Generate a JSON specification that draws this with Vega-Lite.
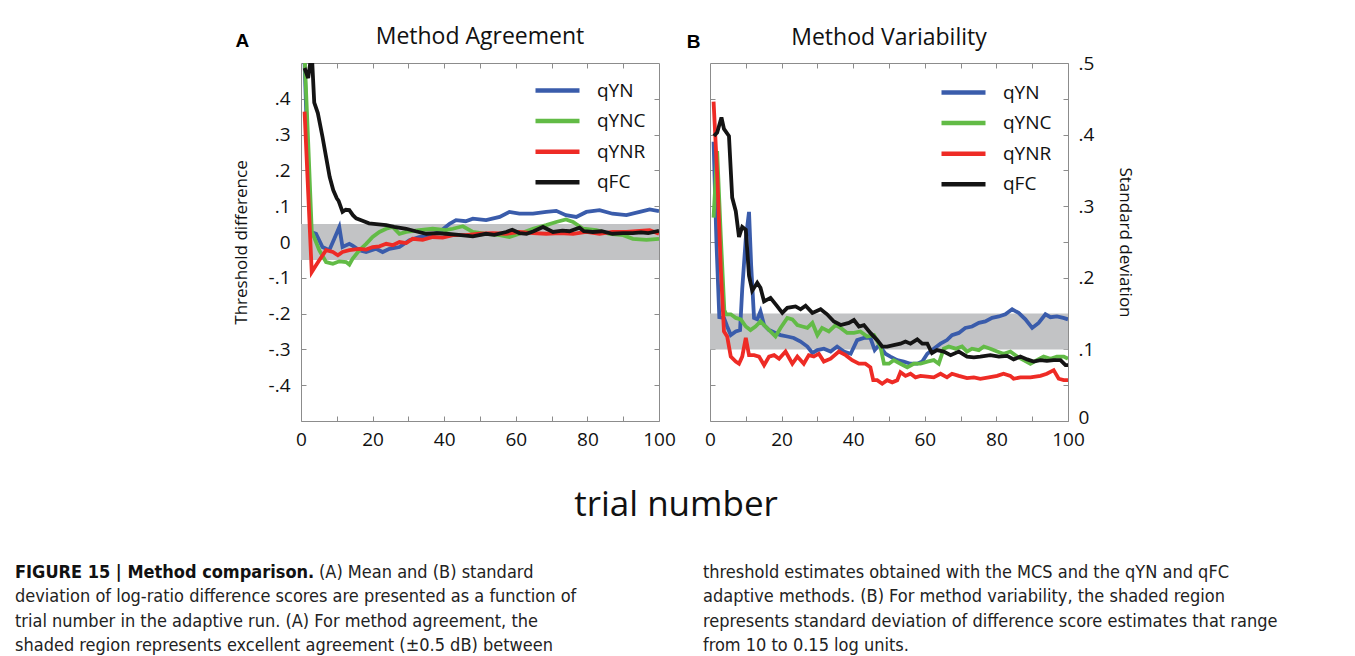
{
"$schema": "https://vega.github.io/schema/vega-lite/v6.json",
"padding": {"left": 15, "top": 25, "right": 0, "bottom": 0},
"background": "white",
"config": {
  "font": "Open Sans",
  "view": {"stroke": "#8c8c8c", "strokeWidth": 1},
  "axis": {"domain": false, "grid": false, "tickColor": "#8c8c8c", "tickSize": -5, "tickWidth": 1, "labelFont": "Open Sans", "labelFontSize": 19, "labelColor": "#111111", "labelFlush": false, "labelOverlap": false, "titleFont": "Open Sans", "titleFontSize": 17, "titleFontWeight": "normal", "titleColor": "#111111"},
  "title": {"font": "Open Sans", "fontSize": 23, "fontWeight": "normal", "color": "#111111", "frame": "group", "anchor": "middle"},
  "legend": {"title": null, "symbolType": "M-2,0H2", "symbolSize": 484, "symbolStrokeWidth": 4.5, "labelFont": "Open Sans", "labelFontSize": 19, "labelColor": "#111111", "labelOffset": 26, "rowPadding": 6.6, "padding": 0}
},
"datasets": {
  "band": [{"p": "A", "x0": 0, "x1": 100, "lo": -0.05, "hi": 0.05}, {"p": "B", "x0": 0, "x1": 100, "lo": 0.1, "hi": 0.15}],
  "caption": [
    {"col": 0, "line": 0, "part": "head", "text": "FIGURE 15 | Method comparison."},
    {"col": 0, "line": 0, "part": "tail", "text": "(A) Mean and (B) standard"},
    {"col": 0, "line": 1, "part": "body", "text": "deviation of log-ratio difference scores are presented as a function of"},
    {"col": 0, "line": 2, "part": "body", "text": "trial number in the adaptive run. (A) For method agreement, the"},
    {"col": 0, "line": 3, "part": "body", "text": "shaded region represents excellent agreement (±0.5 dB) between"},
    {"col": 1, "line": 0, "part": "body", "text": "threshold estimates obtained with the MCS and the qYN and qFC"},
    {"col": 1, "line": 1, "part": "body", "text": "adaptive methods. (B) For method variability, the shaded region"},
    {"col": 1, "line": 2, "part": "body", "text": "represents standard deviation of difference score estimates that range"},
    {"col": 1, "line": 3, "part": "body", "text": "from 10 to 0.15 log units."}
  ],
  "series": [
{"p":"A","s":"qYN","t":1,"v":0.5},{"p":"A","s":"qYN","t":2,"v":0.2},{"p":"A","s":"qYN","t":2.8,"v":0.028},{"p":"A","s":"qYN","t":4.2,"v":0.023},{"p":"A","s":"qYN","t":6,"v":-0.014},{"p":"A","s":"qYN","t":7.9,"v":-0.023},{"p":"A","s":"qYN","t":9.3,"v":0.009},{"p":"A","s":"qYN","t":10.7,"v":0.042},{"p":"A","s":"qYN","t":11.6,"v":-0.014},{"p":"A","s":"qYN","t":13.5,"v":-0.005},{"p":"A","s":"qYN","t":14.4,"v":-0.01},{"p":"A","s":"qYN","t":16.3,"v":-0.023},{"p":"A","s":"qYN","t":18.2,"v":-0.028},{"p":"A","s":"qYN","t":21,"v":-0.019},{"p":"A","s":"qYN","t":22.8,"v":-0.028},{"p":"A","s":"qYN","t":24.7,"v":-0.019},{"p":"A","s":"qYN","t":27.5,"v":-0.014},{"p":"A","s":"qYN","t":30.3,"v":0.005},{"p":"A","s":"qYN","t":33,"v":0.014},{"p":"A","s":"qYN","t":35.9,"v":0.019},{"p":"A","s":"qYN","t":38.7,"v":0.028},{"p":"A","s":"qYN","t":41.5,"v":0.051},{"p":"A","s":"qYN","t":43.3,"v":0.061},{"p":"A","s":"qYN","t":46,"v":0.058},{"p":"A","s":"qYN","t":48,"v":0.065},{"p":"A","s":"qYN","t":51.7,"v":0.061},{"p":"A","s":"qYN","t":55.5,"v":0.07},{"p":"A","s":"qYN","t":58.2,"v":0.084},{"p":"A","s":"qYN","t":61,"v":0.079},{"p":"A","s":"qYN","t":64.8,"v":0.079},{"p":"A","s":"qYN","t":68.5,"v":0.084},{"p":"A","s":"qYN","t":71.3,"v":0.087},{"p":"A","s":"qYN","t":74,"v":0.075},{"p":"A","s":"qYN","t":76.9,"v":0.07},{"p":"A","s":"qYN","t":79.7,"v":0.084},{"p":"A","s":"qYN","t":83.4,"v":0.089},{"p":"A","s":"qYN","t":87,"v":0.079},{"p":"A","s":"qYN","t":90.9,"v":0.075},{"p":"A","s":"qYN","t":94.6,"v":0.084},{"p":"A","s":"qYN","t":97.4,"v":0.091},{"p":"A","s":"qYN","t":100,"v":0.086},
{"p":"A","s":"qYNC","t":1,"v":0.52},{"p":"A","s":"qYNC","t":2,"v":0.28},{"p":"A","s":"qYNC","t":3,"v":0.03},{"p":"A","s":"qYNC","t":5.1,"v":-0.023},{"p":"A","s":"qYNC","t":7,"v":-0.056},{"p":"A","s":"qYNC","t":8.9,"v":-0.061},{"p":"A","s":"qYNC","t":10.7,"v":-0.054},{"p":"A","s":"qYNC","t":12.6,"v":-0.056},{"p":"A","s":"qYNC","t":13.5,"v":-0.063},{"p":"A","s":"qYNC","t":14.4,"v":-0.047},{"p":"A","s":"qYNC","t":16.3,"v":-0.023},{"p":"A","s":"qYNC","t":18.2,"v":-0.005},{"p":"A","s":"qYNC","t":20,"v":0.014},{"p":"A","s":"qYNC","t":21.9,"v":0.028},{"p":"A","s":"qYNC","t":23.8,"v":0.037},{"p":"A","s":"qYNC","t":25.6,"v":0.042},{"p":"A","s":"qYNC","t":27.5,"v":0.023},{"p":"A","s":"qYNC","t":29.4,"v":0.028},{"p":"A","s":"qYNC","t":33,"v":0.033},{"p":"A","s":"qYNC","t":36.8,"v":0.037},{"p":"A","s":"qYNC","t":40.5,"v":0.033},{"p":"A","s":"qYNC","t":42.4,"v":0.037},{"p":"A","s":"qYNC","t":45.2,"v":0.044},{"p":"A","s":"qYNC","t":48,"v":0.028},{"p":"A","s":"qYNC","t":51.7,"v":0.023},{"p":"A","s":"qYNC","t":55.5,"v":0.019},{"p":"A","s":"qYNC","t":58.2,"v":0.014},{"p":"A","s":"qYNC","t":61,"v":0.023},{"p":"A","s":"qYNC","t":64.8,"v":0.037},{"p":"A","s":"qYNC","t":68.5,"v":0.047},{"p":"A","s":"qYNC","t":71.3,"v":0.056},{"p":"A","s":"qYNC","t":74,"v":0.063},{"p":"A","s":"qYNC","t":76,"v":0.056},{"p":"A","s":"qYNC","t":78.8,"v":0.037},{"p":"A","s":"qYNC","t":82.5,"v":0.033},{"p":"A","s":"qYNC","t":86.2,"v":0.023},{"p":"A","s":"qYNC","t":90,"v":0.019},{"p":"A","s":"qYNC","t":92.7,"v":0.009},{"p":"A","s":"qYNC","t":96.5,"v":0.006},{"p":"A","s":"qYNC","t":100,"v":0.009},
{"p":"A","s":"qYNR","t":1,"v":0.364},{"p":"A","s":"qYNR","t":3,"v":-0.084},{"p":"A","s":"qYNR","t":4.2,"v":-0.065},{"p":"A","s":"qYNR","t":5.1,"v":-0.051},{"p":"A","s":"qYNR","t":7,"v":-0.023},{"p":"A","s":"qYNR","t":8.9,"v":-0.028},{"p":"A","s":"qYNR","t":10.3,"v":-0.037},{"p":"A","s":"qYNR","t":11.6,"v":-0.028},{"p":"A","s":"qYNR","t":13.5,"v":-0.023},{"p":"A","s":"qYNR","t":16.3,"v":-0.019},{"p":"A","s":"qYNR","t":18.2,"v":-0.021},{"p":"A","s":"qYNR","t":20,"v":-0.014},{"p":"A","s":"qYNR","t":21.9,"v":-0.012},{"p":"A","s":"qYNR","t":23.8,"v":-0.005},{"p":"A","s":"qYNR","t":25.6,"v":-0.009},{"p":"A","s":"qYNR","t":27.5,"v":0},{"p":"A","s":"qYNR","t":29.4,"v":-0.003},{"p":"A","s":"qYNR","t":31.2,"v":0.009},{"p":"A","s":"qYNR","t":34,"v":0.006},{"p":"A","s":"qYNR","t":36.8,"v":0.014},{"p":"A","s":"qYNR","t":39.6,"v":0.012},{"p":"A","s":"qYNR","t":42.4,"v":0.019},{"p":"A","s":"qYNR","t":46,"v":0.019},{"p":"A","s":"qYNR","t":49.9,"v":0.023},{"p":"A","s":"qYNR","t":53.6,"v":0.025},{"p":"A","s":"qYNR","t":57.3,"v":0.023},{"p":"A","s":"qYNR","t":61,"v":0.028},{"p":"A","s":"qYNR","t":64.8,"v":0.025},{"p":"A","s":"qYNR","t":68.5,"v":0.023},{"p":"A","s":"qYNR","t":72.2,"v":0.025},{"p":"A","s":"qYNR","t":76,"v":0.023},{"p":"A","s":"qYNR","t":79.7,"v":0.028},{"p":"A","s":"qYNR","t":83.4,"v":0.023},{"p":"A","s":"qYNR","t":87,"v":0.028},{"p":"A","s":"qYNR","t":90.9,"v":0.028},{"p":"A","s":"qYNR","t":94.6,"v":0.031},{"p":"A","s":"qYNR","t":97.4,"v":0.033},{"p":"A","s":"qYNR","t":100,"v":0.023},
{"p":"A","s":"qFC","t":1,"v":0.486},{"p":"A","s":"qFC","t":2,"v":0.458},{"p":"A","s":"qFC","t":3,"v":0.53},{"p":"A","s":"qFC","t":3.7,"v":0.389},{"p":"A","s":"qFC","t":4.7,"v":0.36},{"p":"A","s":"qFC","t":6,"v":0.294},{"p":"A","s":"qFC","t":7,"v":0.238},{"p":"A","s":"qFC","t":8,"v":0.182},{"p":"A","s":"qFC","t":9,"v":0.145},{"p":"A","s":"qFC","t":10,"v":0.122},{"p":"A","s":"qFC","t":10.5,"v":0.115},{"p":"A","s":"qFC","t":11.6,"v":0.084},{"p":"A","s":"qFC","t":12.5,"v":0.09},{"p":"A","s":"qFC","t":13.5,"v":0.089},{"p":"A","s":"qFC","t":14.5,"v":0.075},{"p":"A","s":"qFC","t":15.4,"v":0.066},{"p":"A","s":"qFC","t":17,"v":0.06},{"p":"A","s":"qFC","t":19,"v":0.052},{"p":"A","s":"qFC","t":21,"v":0.05},{"p":"A","s":"qFC","t":23.8,"v":0.047},{"p":"A","s":"qFC","t":26,"v":0.042},{"p":"A","s":"qFC","t":29.4,"v":0.037},{"p":"A","s":"qFC","t":32,"v":0.03},{"p":"A","s":"qFC","t":35,"v":0.023},{"p":"A","s":"qFC","t":38,"v":0.025},{"p":"A","s":"qFC","t":40.5,"v":0.023},{"p":"A","s":"qFC","t":44,"v":0.02},{"p":"A","s":"qFC","t":48,"v":0.016},{"p":"A","s":"qFC","t":51.7,"v":0.023},{"p":"A","s":"qFC","t":54,"v":0.02},{"p":"A","s":"qFC","t":57.3,"v":0.028},{"p":"A","s":"qFC","t":59,"v":0.034},{"p":"A","s":"qFC","t":61,"v":0.025},{"p":"A","s":"qFC","t":63,"v":0.023},{"p":"A","s":"qFC","t":65,"v":0.03},{"p":"A","s":"qFC","t":67.6,"v":0.042},{"p":"A","s":"qFC","t":70.4,"v":0.028},{"p":"A","s":"qFC","t":73,"v":0.032},{"p":"A","s":"qFC","t":75,"v":0.03},{"p":"A","s":"qFC","t":77.8,"v":0.04},{"p":"A","s":"qFC","t":79,"v":0.03},{"p":"A","s":"qFC","t":81.5,"v":0.028},{"p":"A","s":"qFC","t":84,"v":0.03},{"p":"A","s":"qFC","t":87,"v":0.023},{"p":"A","s":"qFC","t":90,"v":0.025},{"p":"A","s":"qFC","t":92.7,"v":0.025},{"p":"A","s":"qFC","t":95,"v":0.027},{"p":"A","s":"qFC","t":97,"v":0.025},{"p":"A","s":"qFC","t":100,"v":0.031},
{"p":"B","s":"qYN","t":1,"v":0.39},{"p":"B","s":"qYN","t":1.8,"v":0.25},{"p":"B","s":"qYN","t":2.6,"v":0.145},{"p":"B","s":"qYN","t":3.9,"v":0.144},{"p":"B","s":"qYN","t":4.8,"v":0.132},{"p":"B","s":"qYN","t":5.8,"v":0.12},{"p":"B","s":"qYN","t":7.2,"v":0.125},{"p":"B","s":"qYN","t":8.4,"v":0.127},{"p":"B","s":"qYN","t":9,"v":0.184},{"p":"B","s":"qYN","t":10,"v":0.255},{"p":"B","s":"qYN","t":10.9,"v":0.292},{"p":"B","s":"qYN","t":11.5,"v":0.217},{"p":"B","s":"qYN","t":12.3,"v":0.144},{"p":"B","s":"qYN","t":13.2,"v":0.142},{"p":"B","s":"qYN","t":14.1,"v":0.153},{"p":"B","s":"qYN","t":15.1,"v":0.134},{"p":"B","s":"qYN","t":16.5,"v":0.127},{"p":"B","s":"qYN","t":18.3,"v":0.123},{"p":"B","s":"qYN","t":19.7,"v":0.12},{"p":"B","s":"qYN","t":21.6,"v":0.118},{"p":"B","s":"qYN","t":23.4,"v":0.116},{"p":"B","s":"qYN","t":25.3,"v":0.111},{"p":"B","s":"qYN","t":27.2,"v":0.104},{"p":"B","s":"qYN","t":28.6,"v":0.095},{"p":"B","s":"qYN","t":30,"v":0.099},{"p":"B","s":"qYN","t":31.8,"v":0.101},{"p":"B","s":"qYN","t":33.7,"v":0.097},{"p":"B","s":"qYN","t":35.5,"v":0.104},{"p":"B","s":"qYN","t":37.4,"v":0.097},{"p":"B","s":"qYN","t":39.3,"v":0.094},{"p":"B","s":"qYN","t":41.1,"v":0.113},{"p":"B","s":"qYN","t":43,"v":0.116},{"p":"B","s":"qYN","t":44.8,"v":0.116},{"p":"B","s":"qYN","t":46,"v":0.099},{"p":"B","s":"qYN","t":47.2,"v":0.106},{"p":"B","s":"qYN","t":49,"v":0.094},{"p":"B","s":"qYN","t":50.4,"v":0.09},{"p":"B","s":"qYN","t":52.3,"v":0.085},{"p":"B","s":"qYN","t":54.1,"v":0.083},{"p":"B","s":"qYN","t":56,"v":0.08},{"p":"B","s":"qYN","t":57.9,"v":0.08},{"p":"B","s":"qYN","t":59.3,"v":0.083},{"p":"B","s":"qYN","t":60.7,"v":0.094},{"p":"B","s":"qYN","t":62.5,"v":0.101},{"p":"B","s":"qYN","t":64.4,"v":0.108},{"p":"B","s":"qYN","t":66.2,"v":0.113},{"p":"B","s":"qYN","t":67.6,"v":0.12},{"p":"B","s":"qYN","t":69.5,"v":0.123},{"p":"B","s":"qYN","t":71.3,"v":0.13},{"p":"B","s":"qYN","t":73.2,"v":0.132},{"p":"B","s":"qYN","t":75.1,"v":0.137},{"p":"B","s":"qYN","t":76.9,"v":0.139},{"p":"B","s":"qYN","t":78.8,"v":0.144},{"p":"B","s":"qYN","t":80.7,"v":0.146},{"p":"B","s":"qYN","t":82.5,"v":0.149},{"p":"B","s":"qYN","t":84.4,"v":0.156},{"p":"B","s":"qYN","t":86.2,"v":0.151},{"p":"B","s":"qYN","t":88.1,"v":0.142},{"p":"B","s":"qYN","t":90,"v":0.13},{"p":"B","s":"qYN","t":91.8,"v":0.137},{"p":"B","s":"qYN","t":93.7,"v":0.149},{"p":"B","s":"qYN","t":95.1,"v":0.145},{"p":"B","s":"qYN","t":96.9,"v":0.146},{"p":"B","s":"qYN","t":98.7,"v":0.144},{"p":"B","s":"qYN","t":100,"v":0.142},
{"p":"B","s":"qYNC","t":1,"v":0.284},{"p":"B","s":"qYNC","t":2,"v":0.377},{"p":"B","s":"qYNC","t":3,"v":0.26},{"p":"B","s":"qYNC","t":4,"v":0.155},{"p":"B","s":"qYNC","t":4.5,"v":0.149},{"p":"B","s":"qYNC","t":5.8,"v":0.149},{"p":"B","s":"qYNC","t":7.2,"v":0.144},{"p":"B","s":"qYNC","t":8.6,"v":0.142},{"p":"B","s":"qYNC","t":10,"v":0.132},{"p":"B","s":"qYNC","t":11.3,"v":0.127},{"p":"B","s":"qYNC","t":12.7,"v":0.132},{"p":"B","s":"qYNC","t":14.1,"v":0.139},{"p":"B","s":"qYNC","t":15.5,"v":0.132},{"p":"B","s":"qYNC","t":16.9,"v":0.125},{"p":"B","s":"qYNC","t":18.3,"v":0.118},{"p":"B","s":"qYNC","t":19.7,"v":0.13},{"p":"B","s":"qYNC","t":21.6,"v":0.144},{"p":"B","s":"qYNC","t":23,"v":0.142},{"p":"B","s":"qYNC","t":24.4,"v":0.134},{"p":"B","s":"qYNC","t":25.8,"v":0.132},{"p":"B","s":"qYNC","t":27.2,"v":0.13},{"p":"B","s":"qYNC","t":28.6,"v":0.137},{"p":"B","s":"qYNC","t":30,"v":0.12},{"p":"B","s":"qYNC","t":31.3,"v":0.13},{"p":"B","s":"qYNC","t":33.2,"v":0.125},{"p":"B","s":"qYNC","t":35.1,"v":0.134},{"p":"B","s":"qYNC","t":36.5,"v":0.13},{"p":"B","s":"qYNC","t":38.3,"v":0.123},{"p":"B","s":"qYNC","t":40.2,"v":0.123},{"p":"B","s":"qYNC","t":42,"v":0.125},{"p":"B","s":"qYNC","t":43.9,"v":0.118},{"p":"B","s":"qYNC","t":45.8,"v":0.12},{"p":"B","s":"qYNC","t":47.6,"v":0.104},{"p":"B","s":"qYNC","t":48.6,"v":0.08},{"p":"B","s":"qYNC","t":50,"v":0.08},{"p":"B","s":"qYNC","t":51.3,"v":0.085},{"p":"B","s":"qYNC","t":53.2,"v":0.08},{"p":"B","s":"qYNC","t":55.1,"v":0.075},{"p":"B","s":"qYNC","t":56.9,"v":0.08},{"p":"B","s":"qYNC","t":58.8,"v":0.08},{"p":"B","s":"qYNC","t":60.7,"v":0.083},{"p":"B","s":"qYNC","t":62.5,"v":0.085},{"p":"B","s":"qYNC","t":63.9,"v":0.08},{"p":"B","s":"qYNC","t":65.3,"v":0.101},{"p":"B","s":"qYNC","t":66.7,"v":0.104},{"p":"B","s":"qYNC","t":68.6,"v":0.101},{"p":"B","s":"qYNC","t":70.4,"v":0.104},{"p":"B","s":"qYNC","t":71.8,"v":0.097},{"p":"B","s":"qYNC","t":73.2,"v":0.101},{"p":"B","s":"qYNC","t":75.1,"v":0.099},{"p":"B","s":"qYNC","t":76.5,"v":0.104},{"p":"B","s":"qYNC","t":78.3,"v":0.101},{"p":"B","s":"qYNC","t":80.2,"v":0.097},{"p":"B","s":"qYNC","t":82,"v":0.094},{"p":"B","s":"qYNC","t":83.9,"v":0.097},{"p":"B","s":"qYNC","t":85.8,"v":0.09},{"p":"B","s":"qYNC","t":87.6,"v":0.085},{"p":"B","s":"qYNC","t":89.5,"v":0.08},{"p":"B","s":"qYNC","t":91.3,"v":0.085},{"p":"B","s":"qYNC","t":93.2,"v":0.09},{"p":"B","s":"qYNC","t":95.1,"v":0.087},{"p":"B","s":"qYNC","t":96.9,"v":0.09},{"p":"B","s":"qYNC","t":98.8,"v":0.09},{"p":"B","s":"qYNC","t":100,"v":0.087},
{"p":"B","s":"qYNR","t":1,"v":0.446},{"p":"B","s":"qYNR","t":2.1,"v":0.335},{"p":"B","s":"qYNR","t":3,"v":0.214},{"p":"B","s":"qYNR","t":3.9,"v":0.125},{"p":"B","s":"qYNR","t":4.8,"v":0.118},{"p":"B","s":"qYNR","t":5.8,"v":0.09},{"p":"B","s":"qYNR","t":7.2,"v":0.083},{"p":"B","s":"qYNR","t":8.1,"v":0.08},{"p":"B","s":"qYNR","t":9,"v":0.09},{"p":"B","s":"qYNR","t":10,"v":0.116},{"p":"B","s":"qYNR","t":10.9,"v":0.092},{"p":"B","s":"qYNR","t":12.3,"v":0.092},{"p":"B","s":"qYNR","t":13.7,"v":0.09},{"p":"B","s":"qYNR","t":15.1,"v":0.078},{"p":"B","s":"qYNR","t":16.5,"v":0.09},{"p":"B","s":"qYNR","t":17.9,"v":0.092},{"p":"B","s":"qYNR","t":19.3,"v":0.087},{"p":"B","s":"qYNR","t":21.1,"v":0.097},{"p":"B","s":"qYNR","t":23,"v":0.08},{"p":"B","s":"qYNR","t":24.4,"v":0.09},{"p":"B","s":"qYNR","t":26.2,"v":0.08},{"p":"B","s":"qYNR","t":27.6,"v":0.092},{"p":"B","s":"qYNR","t":29,"v":0.09},{"p":"B","s":"qYNR","t":30.4,"v":0.094},{"p":"B","s":"qYNR","t":31.8,"v":0.083},{"p":"B","s":"qYNR","t":33.7,"v":0.087},{"p":"B","s":"qYNR","t":36,"v":0.097},{"p":"B","s":"qYNR","t":37.9,"v":0.092},{"p":"B","s":"qYNR","t":39.7,"v":0.085},{"p":"B","s":"qYNR","t":41.6,"v":0.08},{"p":"B","s":"qYNR","t":43.4,"v":0.08},{"p":"B","s":"qYNR","t":44.8,"v":0.075},{"p":"B","s":"qYNR","t":45.6,"v":0.057},{"p":"B","s":"qYNR","t":46.7,"v":0.057},{"p":"B","s":"qYNR","t":48.1,"v":0.052},{"p":"B","s":"qYNR","t":49.5,"v":0.057},{"p":"B","s":"qYNR","t":50.9,"v":0.054},{"p":"B","s":"qYNR","t":52.3,"v":0.057},{"p":"B","s":"qYNR","t":53.2,"v":0.068},{"p":"B","s":"qYNR","t":54.6,"v":0.063},{"p":"B","s":"qYNR","t":56,"v":0.066},{"p":"B","s":"qYNR","t":57.4,"v":0.061},{"p":"B","s":"qYNR","t":58.8,"v":0.063},{"p":"B","s":"qYNR","t":60.7,"v":0.062},{"p":"B","s":"qYNR","t":62.5,"v":0.061},{"p":"B","s":"qYNR","t":64.4,"v":0.066},{"p":"B","s":"qYNR","t":66.2,"v":0.061},{"p":"B","s":"qYNR","t":67.6,"v":0.066},{"p":"B","s":"qYNR","t":69.5,"v":0.063},{"p":"B","s":"qYNR","t":71.8,"v":0.06},{"p":"B","s":"qYNR","t":73.7,"v":0.061},{"p":"B","s":"qYNR","t":75.5,"v":0.059},{"p":"B","s":"qYNR","t":77.9,"v":0.061},{"p":"B","s":"qYNR","t":80.2,"v":0.063},{"p":"B","s":"qYNR","t":82,"v":0.066},{"p":"B","s":"qYNR","t":83.9,"v":0.063},{"p":"B","s":"qYNR","t":84.8,"v":0.059},{"p":"B","s":"qYNR","t":86.7,"v":0.061},{"p":"B","s":"qYNR","t":89.5,"v":0.061},{"p":"B","s":"qYNR","t":92.3,"v":0.063},{"p":"B","s":"qYNR","t":94.1,"v":0.066},{"p":"B","s":"qYNR","t":96,"v":0.071},{"p":"B","s":"qYNR","t":97.4,"v":0.059},{"p":"B","s":"qYNR","t":98.8,"v":0.057},{"p":"B","s":"qYNR","t":100,"v":0.057},
{"p":"B","s":"qFC","t":1.1,"v":0.398},{"p":"B","s":"qFC","t":2,"v":0.403},{"p":"B","s":"qFC","t":3.2,"v":0.424},{"p":"B","s":"qFC","t":3.9,"v":0.408},{"p":"B","s":"qFC","t":5.3,"v":0.398},{"p":"B","s":"qFC","t":6.2,"v":0.312},{"p":"B","s":"qFC","t":7.2,"v":0.293},{"p":"B","s":"qFC","t":8.1,"v":0.257},{"p":"B","s":"qFC","t":9,"v":0.271},{"p":"B","s":"qFC","t":10,"v":0.267},{"p":"B","s":"qFC","t":10.9,"v":0.203},{"p":"B","s":"qFC","t":11.8,"v":0.182},{"p":"B","s":"qFC","t":13.2,"v":0.193},{"p":"B","s":"qFC","t":14.1,"v":0.186},{"p":"B","s":"qFC","t":15.1,"v":0.167},{"p":"B","s":"qFC","t":16.9,"v":0.172},{"p":"B","s":"qFC","t":18.8,"v":0.16},{"p":"B","s":"qFC","t":20.2,"v":0.151},{"p":"B","s":"qFC","t":21.6,"v":0.158},{"p":"B","s":"qFC","t":23.9,"v":0.16},{"p":"B","s":"qFC","t":25.3,"v":0.156},{"p":"B","s":"qFC","t":26.7,"v":0.161},{"p":"B","s":"qFC","t":28.6,"v":0.151},{"p":"B","s":"qFC","t":30.9,"v":0.156},{"p":"B","s":"qFC","t":32.7,"v":0.149},{"p":"B","s":"qFC","t":34.6,"v":0.139},{"p":"B","s":"qFC","t":36.5,"v":0.134},{"p":"B","s":"qFC","t":38.8,"v":0.137},{"p":"B","s":"qFC","t":40.2,"v":0.141},{"p":"B","s":"qFC","t":41.6,"v":0.132},{"p":"B","s":"qFC","t":43,"v":0.134},{"p":"B","s":"qFC","t":44.8,"v":0.123},{"p":"B","s":"qFC","t":46.7,"v":0.113},{"p":"B","s":"qFC","t":48.1,"v":0.104},{"p":"B","s":"qFC","t":49.5,"v":0.104},{"p":"B","s":"qFC","t":51.3,"v":0.106},{"p":"B","s":"qFC","t":53.2,"v":0.108},{"p":"B","s":"qFC","t":54.6,"v":0.111},{"p":"B","s":"qFC","t":56,"v":0.108},{"p":"B","s":"qFC","t":57.9,"v":0.114},{"p":"B","s":"qFC","t":59.3,"v":0.108},{"p":"B","s":"qFC","t":60.7,"v":0.108},{"p":"B","s":"qFC","t":62,"v":0.095},{"p":"B","s":"qFC","t":63.4,"v":0.099},{"p":"B","s":"qFC","t":65.3,"v":0.097},{"p":"B","s":"qFC","t":67.2,"v":0.092},{"p":"B","s":"qFC","t":69.5,"v":0.097},{"p":"B","s":"qFC","t":71.8,"v":0.09},{"p":"B","s":"qFC","t":73.7,"v":0.089},{"p":"B","s":"qFC","t":75.5,"v":0.09},{"p":"B","s":"qFC","t":78.3,"v":0.092},{"p":"B","s":"qFC","t":80.7,"v":0.09},{"p":"B","s":"qFC","t":83,"v":0.091},{"p":"B","s":"qFC","t":84.8,"v":0.086},{"p":"B","s":"qFC","t":86.7,"v":0.09},{"p":"B","s":"qFC","t":88.6,"v":0.086},{"p":"B","s":"qFC","t":90.4,"v":0.083},{"p":"B","s":"qFC","t":92.3,"v":0.085},{"p":"B","s":"qFC","t":94.1,"v":0.084},{"p":"B","s":"qFC","t":96,"v":0.085},{"p":"B","s":"qFC","t":97.9,"v":0.085},{"p":"B","s":"qFC","t":99.3,"v":0.078},{"p":"B","s":"qFC","t":100,"v":0.078}
  ]
},
"vconcat": [
  {
    "hconcat": [
      {
        "width": 358, "height": 358,
        "title": {"text": "Method Agreement", "offset": -17},
        "resolve": {"axis": {"x": "independent", "y": "independent"}},
        "layer": [
          {
            "data": {"name": "band"},
            "transform": [{"filter": "datum.p == 'A'"}],
            "mark": {"type": "rect", "color": "#c2c3c5"},
            "encoding": {
              "x": {"field": "x0", "type": "quantitative", "scale": {"domain": [0, 100], "nice": false}, "axis": {"orient": "top", "labels": false, "title": null, "values": [10, 20, 30, 40, 50, 60, 70, 80, 90]}},
              "x2": {"field": "x1"},
              "y": {"field": "lo", "type": "quantitative", "scale": {"domain": [-0.5, 0.5], "nice": false, "zero": false}, "axis": {"orient": "right", "labels": false, "title": null, "values": [-0.4, -0.3, -0.2, -0.1, 0, 0.1, 0.2, 0.3, 0.4]}},
              "y2": {"field": "hi"}
            }
          },
          {
            "data": {"name": "series"},
            "transform": [{"filter": "datum.p == 'A'"}],
            "mark": {"type": "line", "strokeWidth": 3.8, "clip": true},
            "encoding": {
              "x": {"field": "t", "type": "quantitative", "scale": {"domain": [0, 100], "nice": false}, "axis": {"orient": "bottom", "title": null, "values": [0, 10, 20, 30, 40, 50, 60, 70, 80, 90, 100], "labelExpr": "datum.value % 20 == 0 ? datum.label : ''", "labelPadding": 14}},
              "y": {"field": "v", "type": "quantitative", "scale": {"domain": [-0.5, 0.5], "nice": false, "zero": false}, "axis": {"orient": "left", "title": "Threshold difference", "titlePadding": 18, "labelPadding": 16, "values": [-0.4, -0.3, -0.2, -0.1, 0, 0.1, 0.2, 0.3, 0.4], "labelExpr": "datum.value == 0 ? '0' : (datum.value < 0 ? '-' : '') + '.' + format(round(abs(datum.value) * 10), 'd')"}},
              "color": {"field": "s", "type": "nominal", "scale": {"domain": ["qYN", "qYNC", "qYNR", "qFC"], "range": ["#3a5cab", "#62bb46", "#ee2b25", "#141414"]}, "legend": {"orient": "top-right", "offset": 13.5}}
            }
          },
          {
            "data": {"values": [{"label": "A"}]},
            "mark": {"type": "text", "font": "Liberation Sans", "fontWeight": "bold", "fontSize": 19, "color": "#000000", "baseline": "middle", "align": "center"},
            "encoding": {
              "x": {"datum": -16.4, "type": "quantitative", "axis": null},
              "y": {"datum": 0.562, "type": "quantitative", "axis": null},
              "text": {"field": "label"}
            }
          }
        ]
      },
      {
        "width": 358, "height": 358,
        "title": {"text": "Method Variability", "offset": -17},
        "resolve": {"axis": {"x": "independent", "y": "independent"}},
        "layer": [
          {
            "data": {"name": "band"},
            "transform": [{"filter": "datum.p == 'B'"}],
            "mark": {"type": "rect", "color": "#c2c3c5"},
            "encoding": {
              "x": {"field": "x0", "type": "quantitative", "scale": {"domain": [0, 100], "nice": false}, "axis": {"orient": "top", "labels": false, "title": null, "values": [10, 20, 30, 40, 50, 60, 70, 80, 90]}},
              "x2": {"field": "x1"},
              "y": {"field": "lo", "type": "quantitative", "scale": {"domain": [0, 0.5], "nice": false, "zero": false}, "axis": {"orient": "left", "labels": false, "title": null, "values": [0.05, 0.1, 0.15, 0.2, 0.25, 0.3, 0.35, 0.4, 0.45]}},
              "y2": {"field": "hi"}
            }
          },
          {
            "data": {"name": "series"},
            "transform": [{"filter": "datum.p == 'B'"}],
            "mark": {"type": "line", "strokeWidth": 3.8, "clip": true},
            "encoding": {
              "x": {"field": "t", "type": "quantitative", "scale": {"domain": [0, 100], "nice": false}, "axis": {"orient": "bottom", "title": null, "values": [0, 10, 20, 30, 40, 50, 60, 70, 80, 90, 100], "labelExpr": "datum.value % 20 == 0 ? datum.label : ''", "labelPadding": 14}},
              "y": {"field": "v", "type": "quantitative", "scale": {"domain": [0, 0.5], "nice": false, "zero": false}, "axis": {"orient": "right", "title": "Standard deviation", "titlePadding": 22, "labelPadding": 15, "labelOffset": {"condition": {"test": "datum.value == 0", "value": -4}, "value": 0}, "values": [0, 0.05, 0.1, 0.15, 0.2, 0.25, 0.3, 0.35, 0.4, 0.45, 0.5], "labelExpr": "round(datum.value * 100) % 10 != 0 ? '' : (datum.value == 0 ? '0' : '.' + format(round(datum.value * 10), 'd'))"}},
              "color": {"field": "s", "type": "nominal", "scale": {"domain": ["qYN", "qYNC", "qYNR", "qFC"], "range": ["#3a5cab", "#62bb46", "#ee2b25", "#141414"]}, "legend": {"orient": "top-right", "offset": 16}}
            }
          },
          {
            "data": {"values": [{"label": "B"}]},
            "mark": {"type": "text", "font": "Liberation Sans", "fontWeight": "bold", "fontSize": 19, "color": "#000000", "baseline": "middle", "align": "center"},
            "encoding": {
              "x": {"datum": -4.55, "type": "quantitative", "axis": null},
              "y": {"datum": 0.529, "type": "quantitative", "axis": null},
              "text": {"field": "label"}
            }
          }
        ]
      }
    ],
    "spacing": 10,
    "resolve": {"legend": {"color": "independent"}}
  },
  {
    "width": 750, "height": 73,
    "view": {"stroke": null},
    "data": {"name": "caption"},
    "title": {"text": "trial number", "fontSize": 35, "offset": 41},
    "encoding": {
      "x": {"field": "col", "type": "quantitative", "scale": {"domain": [0, 1], "range": [-286, 402]}, "axis": null},
      "y": {"field": "line", "type": "quantitative", "scale": {"domain": [0, 3], "reverse": true}, "axis": null},
      "text": {"field": "text"}
    },
    "layer": [
      {"transform": [{"filter": "datum.part == 'body'"}], "mark": {"type": "text", "align": "left", "baseline": "middle", "font": "DejaVu Sans Condensed, Liberation Sans", "fontSize": 18, "color": "#222222"}},
      {"transform": [{"filter": "datum.part == 'head'"}], "mark": {"type": "text", "align": "left", "baseline": "middle", "font": "DejaVu Sans Condensed, Liberation Sans", "fontSize": 18, "fontWeight": "bold", "color": "#111111"}},
      {"transform": [{"filter": "datum.part == 'tail'"}], "mark": {"type": "text", "align": "left", "baseline": "middle", "dx": 304, "font": "DejaVu Sans Condensed, Liberation Sans", "fontSize": 18, "color": "#222222"}}
    ]
  }
],
"spacing": 38
}
